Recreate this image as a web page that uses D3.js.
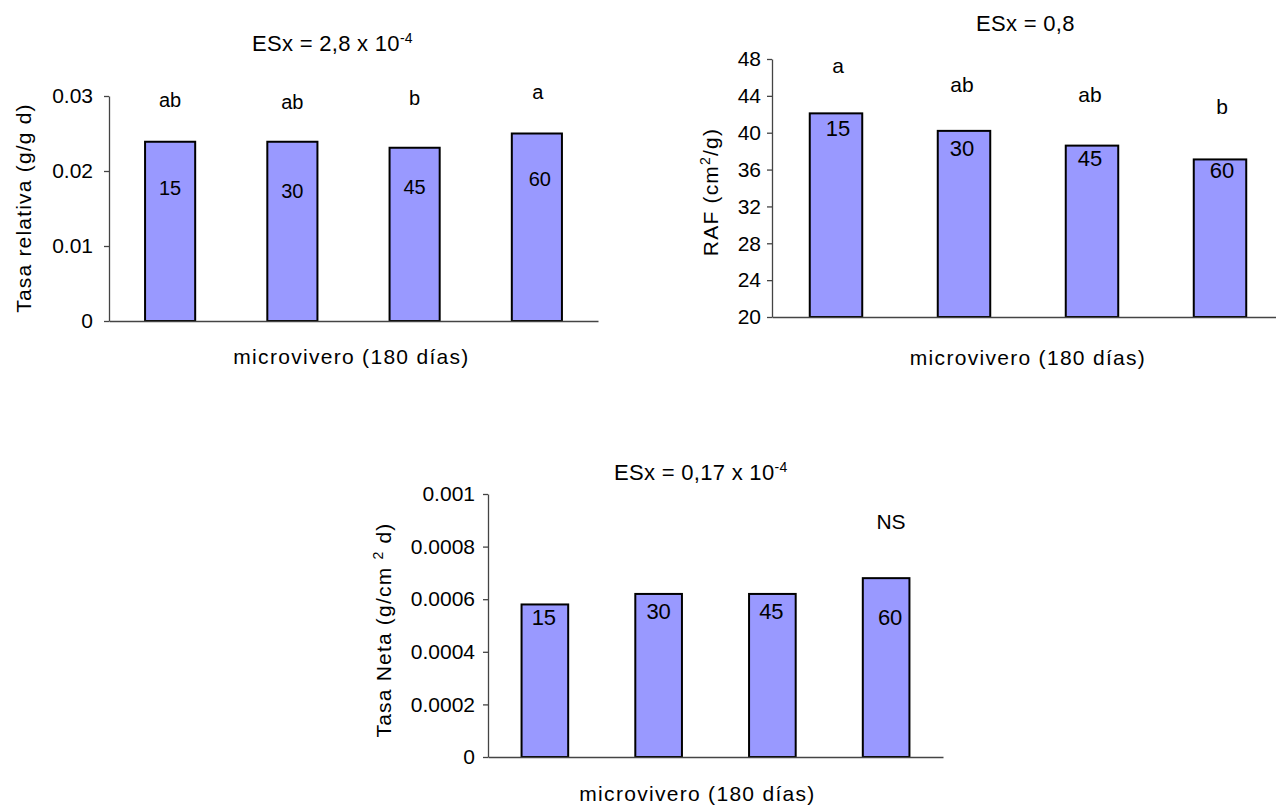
<!DOCTYPE html>
<html>
<head>
<meta charset="utf-8">
<script src="https://cdn.jsdelivr.net/npm/d3@7/dist/d3.min.js"></script>
<style>
  html, body { margin: 0; padding: 0; background: #fff; }
  svg { display: block; font-family: "Liberation Sans", Arial, sans-serif; }
</style>
</head>
<body>
<svg id="chart" width="1276" height="807"></svg>
<script>
// ---------- DATA ----------
const categories = ["15", "30", "45", "60"];
const tasaRelativa = [0.0239, 0.0239, 0.0231, 0.0250];
const raf = [42.1, 40.2, 38.6, 37.1];
const tasaNeta = [0.00058, 0.00062, 0.00062, 0.00068];
const letrasRelativa = ["ab", "ab", "b", "a"];
const letrasRaf = ["a", "ab", "ab", "b"];
const notaNeta = "NS";
const ticks1 = [0, 0.01, 0.02, 0.03];
const tickLabels1 = ["0", "0.01", "0.02", "0.03"];
const ticks2 = [20, 24, 28, 32, 36, 40, 44, 48];
const tickLabels2 = ["20", "24", "28", "32", "36", "40", "44", "48"];
const ticks3 = [0, 0.0002, 0.0004, 0.0006, 0.0008, 0.001];
const tickLabels3 = ["0", "0.0002", "0.0004", "0.0006", "0.0008", "0.001"];
const xTitle = "microvivero (180 días)";

// ---------- LAYOUT ----------
const svg = d3.select("#chart");
const FS = 21;

function drawChart(cfg) {
  const g = svg.append("g");
  const x = d3.scaleBand().domain(categories).range([cfg.left, cfg.right])
    .paddingInner(0.59).paddingOuter(0.295);
  const y = d3.scaleLinear().domain(cfg.domain).range([cfg.bottom, cfg.top]);

  // bars
  g.selectAll("rect.bar").data(cfg.values).enter().append("rect")
    .attr("class", "bar")
    .attr("x", (d, i) => x(categories[i]))
    .attr("y", d => y(d))
    .attr("width", x.bandwidth())
    .attr("height", d => y(cfg.domain[0]) - y(d))
    .attr("fill", "#9999FF")
    .attr("stroke", "#000")
    .attr("stroke-width", 2);

  // y axis
  const ay = g.append("g").attr("transform", `translate(${cfg.left},0)`)
    .call(d3.axisLeft(y).tickValues(cfg.ticks)
      .tickFormat((d, i) => cfg.tickLabels[i])
      .tickSize(5).tickSizeOuter(0).tickPadding(cfg.tickPad));
  ay.select(".domain").attr("stroke", "#444").attr("stroke-width", 1.3);
  ay.selectAll(".tick line").attr("stroke", "#444").attr("stroke-width", 1.3);
  ay.selectAll(".tick text").attr("font-size", FS).attr("fill", "#000")
    .attr("font-family", "Liberation Sans, Arial, sans-serif");

  // x axis (line only)
  const ax = g.append("g").attr("transform", `translate(0,${cfg.bottom})`)
    .call(d3.axisBottom(x).tickSize(0).tickSizeOuter(0).tickFormat(""));
  ax.select(".domain").attr("stroke", "#444").attr("stroke-width", 1.3);

  // number labels inside bars
  g.selectAll("text.num").data(cfg.values).enter().append("text")
    .attr("class", "num")
    .attr("x", (d, i) => x(categories[i]) + x.bandwidth() / 2 + cfg.numDx[i])
    .attr("y", (d, i) => y(d) + cfg.numDy[i])
    .attr("dy", "0.36em")
    .attr("text-anchor", "middle")
    .attr("font-size", cfg.numFS)
    .text((d, i) => categories[i]);

  // significance letters
  if (cfg.letters) {
    g.selectAll("text.let").data(cfg.letters).enter().append("text")
      .attr("class", "let")
      .attr("x", (d, i) => x(categories[i]) + x.bandwidth() / 2 + cfg.letDx[i])
      .attr("y", (d, i) => cfg.letY[i])
      .attr("dy", "0.36em")
      .attr("text-anchor", "middle")
      .attr("font-size", cfg.letFS)
      .text(d => d);
  }

  // title
  const t = g.append("text").attr("x", cfg.titleX).attr("y", cfg.titleY)
    .attr("font-size", 22).attr("letter-spacing", 0.3).attr("text-anchor", "start");
  t.append("tspan").text(cfg.title[0]);
  if (cfg.title[1]) {
    t.append("tspan").attr("dy", -8).attr("font-size", 14).text(cfg.title[1]);
  }

  // x title
  g.append("text").attr("x", (cfg.left + cfg.right) / 2 + cfg.xTitleDx)
    .attr("y", cfg.xTitleY).attr("text-anchor", "middle")
    .attr("font-size", FS).attr("letter-spacing", 1.3).text(xTitle);

  // y title
  const yt = g.append("text")
    .attr("transform", `translate(${cfg.yTitleX},${cfg.yTitleY}) rotate(-90)`)
    .attr("text-anchor", "middle").attr("font-size", FS).attr("letter-spacing", 1.2);
  cfg.yTitle.forEach(p => {
    const s = yt.append("tspan").text(p.t);
    if (p.sup) s.attr("dy", -8).attr("font-size", 14);
    if (p.after) s.attr("dy", 8);
  });
  return { x, y };
}

// Chart 1: Tasa relativa
drawChart({
  left: 109, right: 598, top: 96, bottom: 321,
  domain: [0, 0.03], values: tasaRelativa,
  ticks: ticks1, tickLabels: tickLabels1, tickPad: 11,
  numFS: 20, numDx: [0, 0, 0, 3], numDy: [46, 49, 39, 45],
  letters: letrasRelativa, letFS: 20, letDx: [0, 0, 0, 1], letY: [100, 102, 98, 92],
  title: ["ESx = 2,8 x 10", "-4"], titleX: 252, titleY: 51,
  xTitleDx: -2, xTitleY: 364,
  yTitleX: 31, yTitleY: 208,
  yTitle: [{ t: "Tasa relativa (g/g d)" }]
});

// Chart 2: RAF
drawChart({
  left: 772, right: 1284, top: 59, bottom: 317,
  domain: [20, 48], values: raf,
  ticks: ticks2, tickLabels: tickLabels2, tickPad: 6,
  numFS: 22, numDx: [2, -2, -2, 2], numDy: [15, 17, 12, 11],
  letters: letrasRaf, letFS: 21, letDx: [2, -2, -2, 2], letY: [65, 84, 94, 106],
  title: ["ESx = 0,8"], titleX: 976, titleY: 31,
  xTitleDx: 0, xTitleY: 365,
  yTitleX: 718, yTitleY: 192,
  yTitle: [{ t: "RAF (cm" }, { t: "2", sup: true }, { t: "/g)", after: true }]
});

// Chart 3: Tasa Neta
drawChart({
  left: 488, right: 943, top: 494, bottom: 757,
  domain: [0, 0.001], values: tasaNeta,
  ticks: ticks3, tickLabels: tickLabels3, tickPad: 8,
  numFS: 22, numDx: [-1, 0, -1, 4], numDy: [13, 17, 17, 39],
  letters: null,
  title: ["ESx = 0,17 x 10", "-4"], titleX: 614, titleY: 480,
  xTitleDx: -18, xTitleY: 801,
  yTitleX: 391, yTitleY: 630,
  yTitle: [{ t: "Tasa Neta (g/cm " }, { t: "2", sup: true }, { t: " d)", after: true }]
});

// NS note for chart 3
svg.append("text").attr("x", 891).attr("y", 521).attr("dy", "0.36em")
  .attr("text-anchor", "middle").attr("font-size", 21).text(notaNeta);
</script>
</body>
</html>
